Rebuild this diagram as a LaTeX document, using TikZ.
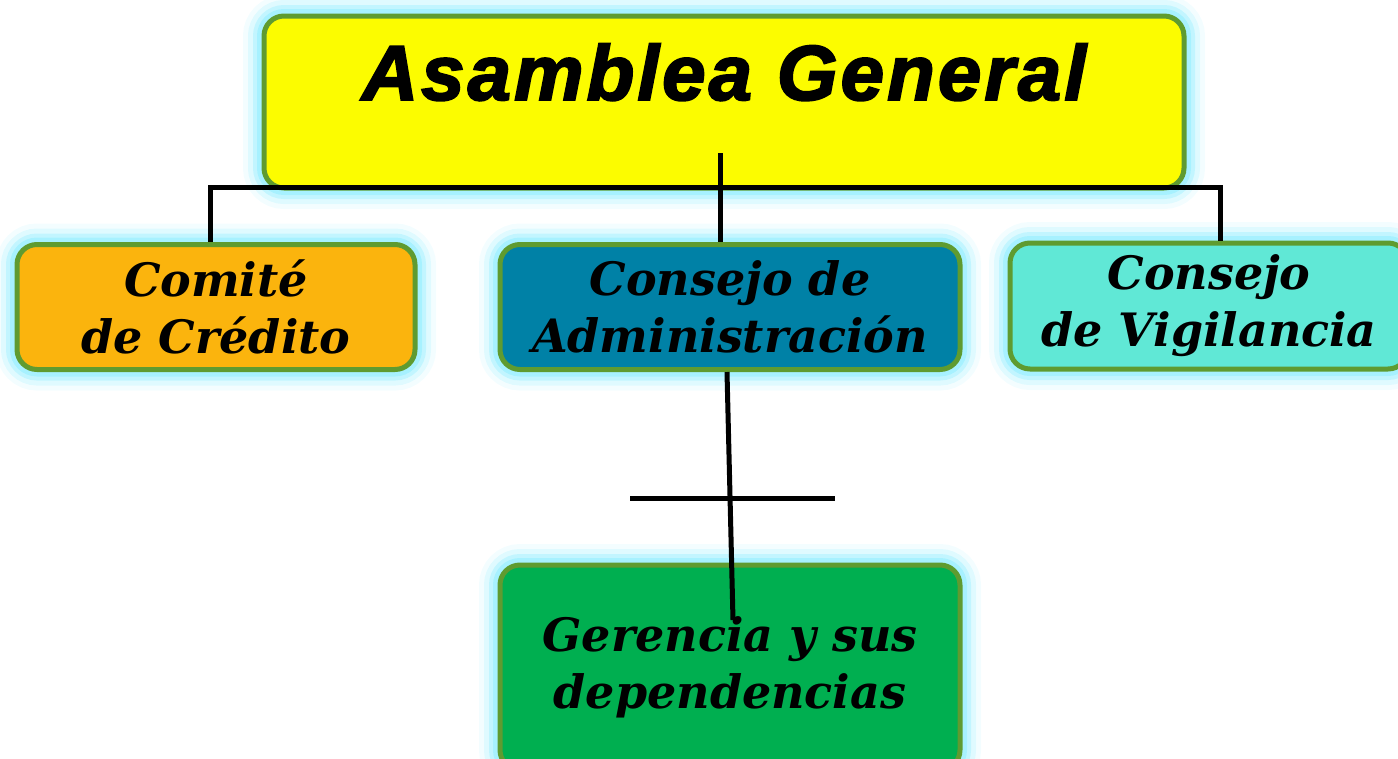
\documentclass[tikz,border=0pt]{standalone}
\usepackage{fontspec}
\setmainfont{DejaVu Serif}
\newfontfamily\titlefont[FakeBold=2.5, LetterSpace=4]{Liberation Sans}
\definecolor{glow}{HTML}{A0F0FF}
\definecolor{rim}{HTML}{5F9B30}
\definecolor{amarillo}{HTML}{FCFC00}
\definecolor{naranja}{HTML}{FBB40D}
\definecolor{azul}{HTML}{0081A6}
\definecolor{aqua}{HTML}{60E8D6}
\definecolor{verde}{HTML}{00AF50}
\begin{document}
\begin{tikzpicture}[x=1pt, y=-1pt,
        box/.style={draw=rim, line width=5pt, rounded corners=20pt, inner sep=0pt,
            align=center, font=\fontsize{46}{57}\selectfont\bfseries\itshape,
            preaction={draw=glow, line width=42pt, opacity=.12},
            preaction={draw=glow, line width=32pt, opacity=.25},
            preaction={draw=glow, line width=22pt, opacity=.45},
            preaction={draw=glow, line width=14pt, opacity=.8}},
        link/.style={line width=5pt}]
        \useasboundingbox (0,0) rectangle (1398,758);

        \node[box, fill=amarillo, minimum width=920pt, text height=84pt, text depth=88pt,
            font=\titlefont\fontsize{78}{80}\selectfont\bfseries\itshape, anchor=base] (asamblea) at (724,100) {Asamblea General};
        \node[box, fill=naranja, minimum width=398pt, minimum height=125pt] (comite) at (216,307) {Comité\\de Crédito};
        \node[box, fill=azul, minimum width=460pt, minimum height=125pt] (consejo) at (730,307) {Consejo de\\Administración};
        \node[box, fill=aqua, minimum width=398pt, minimum height=126pt] (vigilancia) at (1209,306) {Consejo\\de Vigilancia};
        \node[box, fill=verde, minimum width=460pt, minimum height=205pt] (gerencia) at (730,667.5) {Gerencia y sus\\dependencias};

        \coordinate (barL) at (210,187);
        \coordinate (barR) at (1220,187);
        \coordinate (mid) at (720,153);
        \coordinate (low) at (733,620);
        \coordinate (crossL) at (630,498);
        \coordinate (crossR) at (835,498);

        \draw[link] (comite.north -| barL) -- (barL) -- (barR) -- (vigilancia.north -| barR);
        \draw[link] (mid) -- (consejo.north -| mid);
        \draw[link] (consejo.south -| 727,0) -- (low);
        \draw[link] (crossL) -- (crossR);
    \end{tikzpicture}
\end{document}
